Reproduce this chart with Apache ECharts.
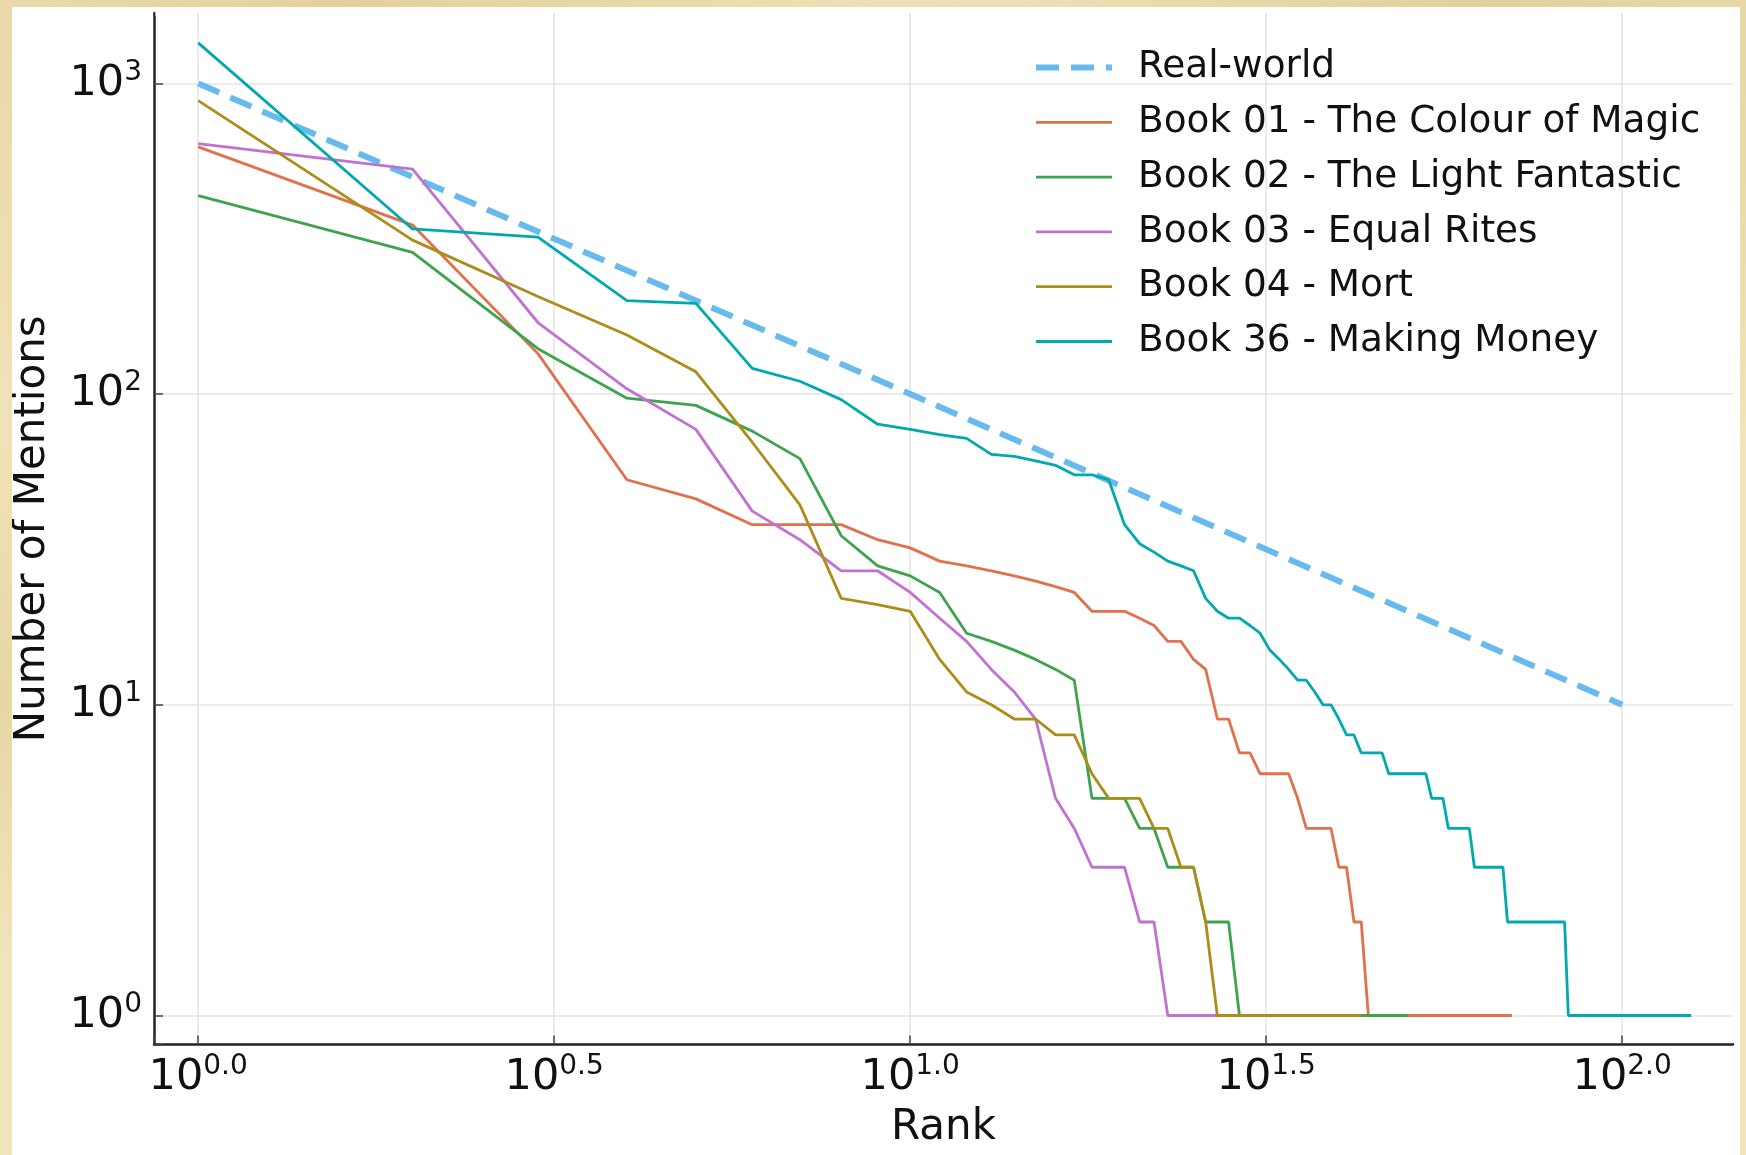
<!DOCTYPE html>
<html>
<head>
<meta charset="utf-8">
<title>Character mentions by rank</title>
<script src="https://cdn.jsdelivr.net/npm/echarts@6/dist/echarts.min.js"></script>
<style>
  html, body { margin: 0; padding: 0; }
  body {
    width: 1746px; height: 1155px; overflow: hidden; position: relative;
    background:
      radial-gradient(ellipse at 20% 0%, rgba(214,190,130,0.55) 0, rgba(214,190,130,0) 35%),
      radial-gradient(ellipse at 85% 2%, rgba(205,180,120,0.45) 0, rgba(205,180,120,0) 30%),
      radial-gradient(ellipse at 0% 60%, rgba(220,200,140,0.5) 0, rgba(220,200,140,0) 30%),
      #f2e5bb;
  }
  #chart { position: absolute; left: 12px; top: 7px; width: 1728px; height: 1148px; background: #ffffff; }
</style>
</head>
<body>
<div id="chart"></div>
<script>
// Mentions per character, ordered by rank (index 0 = rank 1)
const realWorldRanks  = [1, 100];
const realWorldValues = [1000, 10];

const book01 = [625, 350, 135, 53, 46, 38, 38, 38, 34, 32, 29, 28, 27, 26, 25, 24, 23, 20, 20, 20,
  19, 18, 16, 16, 14, 13, 9, 9, 7, 7, 6, 6, 6, 6, 5, 4, 4, 4, 4, 3,
  3, 2, 2, 1, 1, 1, 1, 1, 1, 1, 1, 1, 1, 1, 1, 1, 1, 1, 1, 1,
  1, 1, 1, 1, 1, 1, 1, 1, 1, 1];
const book02 = [435, 286, 140, 97, 92, 76, 62, 35, 28, 26, 23, 17, 16, 15, 14, 13, 12, 5, 5, 5,
  4, 4, 3, 3, 3, 2, 2, 2, 1, 1, 1, 1, 1, 1, 1, 1, 1, 1, 1, 1,
  1, 1, 1, 1, 1, 1, 1, 1, 1, 1];
const book03 = [640, 530, 170, 104, 77, 42, 34, 27, 27, 23, 19, 16, 13, 11, 9, 5, 4, 3, 3, 3,
  2, 2, 1, 1, 1, 1, 1, 1, 1, 1, 1, 1, 1, 1, 1, 1, 1, 1];
const book04 = [880, 313, 206, 155, 118, 70, 44, 22, 21, 20, 14, 11, 10, 9, 9, 8, 8, 6, 5, 5,
  5, 4, 4, 3, 3, 2, 1, 1, 1, 1, 1, 1, 1, 1, 1, 1, 1, 1, 1, 1,
  1, 1, 1];
const book36 = [1350, 340, 320, 200, 196, 121, 110, 96, 80, 77, 74, 72, 64, 63, 61, 59, 55, 55, 53, 38,
  33, 31, 29, 28, 27, 22, 20, 19, 19, 18, 17, 15, 14, 13, 12, 12, 11, 10, 10, 9,
  8, 8, 7, 7, 7, 7, 6, 6, 6, 6, 6, 6, 6, 5, 5, 5, 4, 4, 4, 4,
  4, 3, 3, 3, 3, 3, 3, 3, 2, 2, 2, 2, 2, 2, 2, 2, 2, 2, 2, 2,
  2, 2, 2, 1, 1, 1, 1, 1, 1, 1, 1, 1, 1, 1, 1, 1, 1, 1, 1, 1,
  1, 1, 1, 1, 1, 1, 1, 1, 1, 1, 1, 1, 1, 1, 1, 1, 1, 1, 1, 1,
  1, 1, 1, 1, 1];

const seriesNames = [
  'Real-world',
  'Book 01 - The Colour of Magic',
  'Book 02 - The Light Fantastic',
  'Book 03 - Equal Rites',
  'Book 04 - Mort',
  'Book 36 - Making Money'
];
const seriesColors = ['#66baee', '#e2704a', '#3da44d', '#c271d2', '#ac8d18', '#00a9ad'];

const FONT = 'DejaVu Sans';

function byRank(values) {
  return values.map((v, i) => [i + 1, v]);
}

const richLabel = {
  b: { fontFamily: FONT, fontSize: 43, lineHeight: 50, color: '#111' },
  s: { fontFamily: FONT, fontSize: 28, lineHeight: 27, verticalAlign: 'top', color: '#111' }
};

function xLabel(v) {
  const e = Math.log10(v);
  const k = Math.round(e * 2);
  if (Math.abs(e * 2 - k) > 1e-4) return '';
  return '{b|10}{s|' + (k / 2).toFixed(1) + '}';
}
function yLabel(v) {
  const e = Math.log10(v);
  const k = Math.round(e);
  if (Math.abs(e - k) > 1e-4) return '';
  return '{b|10}{s|' + k + '}';
}

const axisLine = { show: true, onZero: false, lineStyle: { color: '#222', width: 2.5 } };
const axisTick = { show: true, inside: true, length: 9, lineStyle: { color: '#444', width: 1.5 } };
const splitLine = { show: true, showMinLine: false, showMaxLine: false, lineStyle: { color: '#e4e4e4', width: 1.5 } };

// Plot frame inside the chart container
const GRID = { left: 142, top: 6, width: 1579, height: 1031.5 };

const chart = echarts.init(document.getElementById('chart'), null, { renderer: 'canvas' });

const bookSeries = [book01, book02, book03, book04, book36].map((vals, i) => ({
  name: seriesNames[i + 1],
  type: 'line',
  data: byRank(vals),
  symbol: 'none',
  showSymbol: false,
  silent: true,
  lineStyle: { color: seriesColors[i + 1], width: 2.8 },
  itemStyle: { color: seriesColors[i + 1] },
  z: 3 + i
}));

chart.setOption({
  animation: false,
  backgroundColor: '#ffffff',
  grid: Object.assign({ containLabel: false, outerBoundsMode: 'none' }, GRID),
  legend: {
    orient: 'vertical',
    left: 1021,
    top: 39.5,
    padding: 0,
    itemWidth: 76,
    itemHeight: 14,
    itemGap: 12.8,
    selectedMode: false,
    backgroundColor: 'transparent',
    lineStyle: { width: 'inherit' },
    itemStyle: { opacity: 0, borderWidth: 0 },
    textStyle: { fontFamily: FONT, fontSize: 37.4, lineHeight: 42, color: '#111', padding: [0, 0, 0, 21] },
    data: seriesNames
  },
  // plain white caps over the tick marks that sit on the frame's far ends
  graphic: [
    { type: 'rect', z: 100, silent: true,
      shape: { x: GRID.left + 1.5, y: GRID.top - 3, width: 10, height: 6 },
      style: { fill: '#ffffff' } },
    { type: 'rect', z: 100, silent: true,
      shape: { x: GRID.left + GRID.width - 4, y: GRID.top + GRID.height - 12, width: 8, height: 10.5 },
      style: { fill: '#ffffff' } }
  ],
  xAxis: {
    type: 'log',
    logBase: Math.sqrt(10),
    min: Math.pow(10, -0.0621),
    max: Math.pow(10, 2.1556),
    name: 'Rank',
    nameLocation: 'middle',
    nameGap: 63,
    nameTextStyle: { fontFamily: FONT, fontSize: 42, color: '#111' },
    axisLine: axisLine,
    axisTick: axisTick,
    splitLine: splitLine,
    axisLabel: { formatter: xLabel, rich: richLabel, margin: 8 }
  },
  yAxis: {
    type: 'log',
    logBase: 10,
    min: Math.pow(10, -0.0933),
    max: Math.pow(10, 3.2266),
    name: 'Number of Mentions',
    nameLocation: 'middle',
    nameRotate: 90,
    nameGap: 100,
    nameTextStyle: { fontFamily: FONT, fontSize: 42, color: '#111' },
    axisLine: axisLine,
    axisTick: axisTick,
    splitLine: splitLine,
    axisLabel: { formatter: yLabel, rich: richLabel, margin: 12 }
  },
  series: [{
    name: seriesNames[0],
    type: 'line',
    data: realWorldRanks.map((r, i) => [r, realWorldValues[i]]),
    symbol: 'none',
    showSymbol: false,
    silent: true,
    lineStyle: { color: seriesColors[0], width: 6, type: [23, 12] },
    itemStyle: { color: seriesColors[0] },
    z: 2
  }].concat(bookSeries)
});
</script>
</body>
</html>
